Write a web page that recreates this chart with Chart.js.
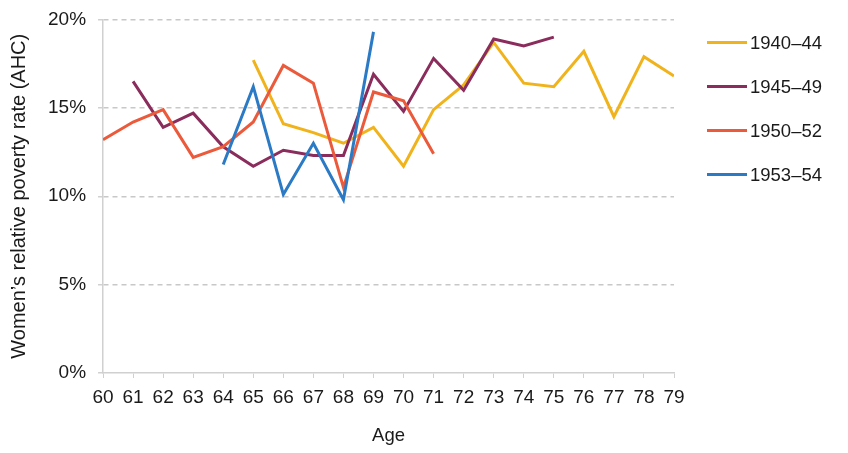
<!DOCTYPE html>
<html>
<head>
<meta charset="utf-8">
<script src="https://cdn.jsdelivr.net/npm/chart.js@4/dist/chart.umd.min.js"></script>
<style>
    html, body { margin: 0; padding: 0; background: #fff; }
    #wrap { width: 848px; height: 453px; position: relative; }
</style>
</head>
<body>
<div id="wrap"><canvas id="poverty-chart"></canvas></div>
<script>
// Women's relative poverty rate (AHC) by age, per birth cohort
const cohorts = ['1940–44', '1945–49', '1950–52', '1953–54'];
const colours = ['#F1B31C', '#8A2C5C', '#EC5A3C', '#2A7AC6'];

const ages1940 = [65, 66, 67, 68, 69, 70, 71, 72, 73, 74, 75, 76, 77, 78, 79];
const rates1940 = [17.7, 14.1, 13.6, 13.0, 13.9, 11.7, 14.9, 16.3, 18.7, 16.4, 16.2, 18.2, 14.5, 17.9, 16.8];

const ages1945 = [61, 62, 63, 64, 65, 66, 67, 68, 69, 70, 71, 72, 73, 74, 75];
const rates1945 = [16.5, 13.9, 14.7, 12.8, 11.7, 12.6, 12.3, 12.3, 16.9, 14.8, 17.8, 16.0, 18.9, 18.5, 19.0];

const ages1950 = [60, 61, 62, 63, 64, 65, 66, 67, 68, 69, 70, 71];
const rates1950 = [13.2, 14.2, 14.9, 12.2, 12.8, 14.2, 17.4, 16.4, 10.5, 15.9, 15.4, 12.4];

const ages1953 = [64, 65, 66, 67, 68, 69];
const rates1953 = [11.8, 16.2, 10.1, 13.0, 9.8, 19.3];

const ageTicks = [60, 79];
const rateTicks = [0, 20, 5];

const FONT = '"Liberation Sans", Arial, sans-serif';
const SIZE = 19;
const TEXT = '#1a1a1a';

function points(ages, rates) {
    return ages.map((a, i) => ({ x: a, y: rates[i] }));
}

// Legend drawn beside the plot, line sample + label
const sideLegend = {
    id: 'sideLegend',
    afterDraw(chart) {
        const { ctx, chartArea } = chart;
        ctx.save();
        ctx.font = '18.5px ' + FONT;
        ctx.textBaseline = 'middle';
        chart.data.datasets.forEach((ds, i) => {
            const x = chartArea.right + 33;
            const y = chartArea.top + 23 + i * 44;
            ctx.strokeStyle = ds.borderColor;
            ctx.lineWidth = 3;
            ctx.beginPath();
            ctx.moveTo(x, y);
            ctx.lineTo(x + 40, y);
            ctx.stroke();
            ctx.fillStyle = TEXT;
            ctx.fillText(ds.label, x + 43, y + 1);
        });
        ctx.restore();
    }
};

const seriesData = [
    points(ages1940, rates1940),
    points(ages1945, rates1945),
    points(ages1950, rates1950),
    points(ages1953, rates1953)
];

const ctx = document.getElementById('poverty-chart').getContext('2d');

new Chart(ctx, {
    type: 'line',
    data: {
        datasets: cohorts.map((label, i) => ({
            label: label,
            data: seriesData[i],
            borderColor: colours[i],
            backgroundColor: colours[i],
            borderWidth: 3,
            pointRadius: 0,
            tension: 0,
            fill: false,
            order: cohorts.length - i
        }))
    },
    options: {
        responsive: true,
        maintainAspectRatio: false,
        animation: false,
        layout: {
            padding: { left: 7, right: 174, top: 1, bottom: 6 }
        },
        plugins: {
            legend: { display: false },
            tooltip: { enabled: false }
        },
        scales: {
            x: {
                type: 'linear',
                min: ageTicks[0],
                max: ageTicks[1],
                ticks: {
                    stepSize: 1,
                    color: TEXT,
                    font: { family: FONT, size: SIZE },
                    padding: 8,
                    maxRotation: 0
                },
                grid: {
                    drawOnChartArea: false,
                    drawTicks: true,
                    tickLength: 5,
                    color: '#D0D0D0'
                },
                border: { color: '#D0D0D0', width: 1.5 },
                title: {
                    display: true,
                    text: 'Age',
                    color: TEXT,
                    font: { family: FONT, size: 18.5 },
                    padding: { top: 8, bottom: 0 }
                }
            },
            y: {
                min: rateTicks[0],
                max: rateTicks[1],
                afterFit: (scale) => { scale.paddingTop = 19.5; },
                ticks: {
                    stepSize: rateTicks[2],
                    color: TEXT,
                    font: { family: FONT, size: SIZE },
                    padding: 12,
                    callback: (value) => value + '%'
                },
                grid: {
                    color: (c) => c.tick && c.tick.value === 0 ? 'rgba(0,0,0,0)' : '#C8C8C8',
                    tickColor: '#D0D0D0',
                    tickLength: 5,
                    lineWidth: 1.5
                },
                border: { color: '#D0D0D0', width: 1.5, dash: [5, 4] },
                title: {
                    display: true,
                    text: 'Women’s relative poverty rate (AHC)',
                    color: TEXT,
                    font: { family: FONT, size: 20 },
                    padding: { top: 0, bottom: 5 }
                }
            }
        }
    },
    plugins: [sideLegend]
});
</script>
</body>
</html>
